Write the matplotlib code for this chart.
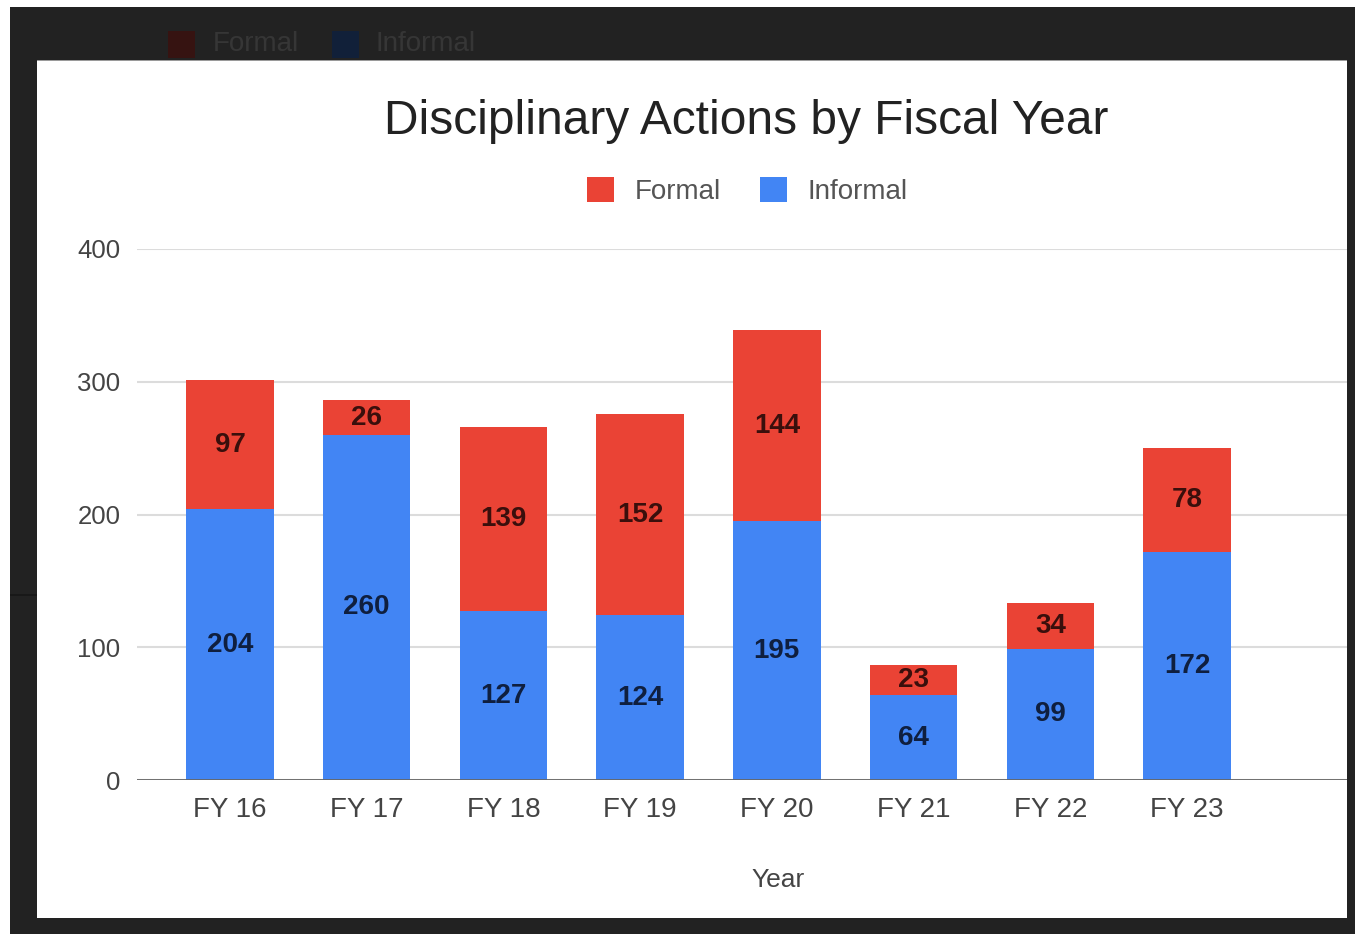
import matplotlib.pyplot as plt
from matplotlib.patches import Rectangle, Patch

plt.rcParams['font.family'] = ['Liberation Sans', 'DejaVu Sans']

years = ['FY 16', 'FY 17', 'FY 18', 'FY 19', 'FY 20', 'FY 21', 'FY 22', 'FY 23']
informal = [204, 260, 127, 124, 195, 64, 99, 172]
formal = [97, 26, 139, 152, 144, 23, 34, 78]

red = '#EA4335'
blue = '#4285F4'

W, H = 1360, 934
fig = plt.figure(figsize=(W / 100, H / 100), dpi=100, facecolor='white')


def box(x, y, w, h, color, z=0, **kw):
    # rectangle given in pixels, top-left origin
    fig.patches.append(Rectangle((x / W, 1 - (y + h) / H), w / W, h / H,
                                 transform=fig.transFigure, facecolor=color,
                                 zorder=z, **kw))


# dark page behind the white card
box(10, 7, 1345, 927, '#222222', edgecolor='none')
box(10, 594, 28, 2, '#181818', edgecolor='none')
# dimmed legend of the page underneath
box(168, 31, 27, 27, '#361311', edgecolor='none')
box(332, 31, 27, 27, '#112039', edgecolor='none')
fig.text(213 / W, 1 - 44 / H, 'Formal', fontsize=20, color='#363636',
         va='center', ha='left', zorder=0.2)
fig.text(376 / W, 1 - 44 / H, 'Informal', fontsize=20, color='#363636',
         va='center', ha='left', zorder=0.2)

# white chart card
box(37, 60, 1310, 858, 'white', z=0.5, edgecolor='none')
box(37, 60, 1310, 1, '#9a9a9a', z=0.6, edgecolor='none')

ax = fig.add_axes([137 / W, 154 / H, (1347 - 137) / W, (685 - 154) / H])
ax.set_zorder(1)
ax.set_facecolor('none')

x = range(len(years))
ax.bar(x, informal, width=0.64, color=blue, zorder=3)
ax.bar(x, formal, width=0.64, bottom=informal, color=red, zorder=3)

for i in x:
    ax.text(i, informal[i] / 2, str(informal[i]), ha='center', va='center',
            fontsize=20, fontweight='bold', color='#0f1f3f', zorder=4)
    ax.text(i, informal[i] + formal[i] / 2, str(formal[i]), ha='center',
            va='center', fontsize=20, fontweight='bold', color='#3a0f0c',
            zorder=4)

ax.set_xlim(-0.68, 8.17)
ax.set_ylim(0, 400)
ax.set_yticks([0, 100, 200, 300, 400])
ax.set_xticks(list(x))
ax.set_xticklabels(years)
ax.tick_params(axis='y', length=0, pad=12, labelsize=18.5, labelcolor='#444444')
ax.tick_params(axis='x', length=0, pad=12, labelsize=20, labelcolor='#444444')
ax.grid(axis='y', color='#dcdcdc', linewidth=1.5, zorder=0)
ax.axhline(0, color='#666666', linewidth=2, zorder=5)
for s in ax.spines.values():
    s.set_visible(False)

fig.text(746 / W, 1 - 121 / H, 'Disciplinary Actions by Fiscal Year',
         fontsize=34.5, color='#222222', ha='center', va='center', zorder=2)
fig.text(778 / W, 1 - 880 / H, 'Year', fontsize=19, color='#444444',
         ha='center', va='center', zorder=2)

handles = [Patch(facecolor=red), Patch(facecolor=blue)]
leg = fig.legend(handles, ['Formal', 'Informal'], loc='center',
                 bbox_to_anchor=(747 / W, 1 - 191 / H), ncol=2, frameon=False,
                 fontsize=20, handlelength=1, handleheight=1, handletextpad=0.72,
                 columnspacing=1.4, labelcolor='#555555')
leg.set_zorder(2)

fig.savefig('out.png', dpi=100, facecolor=fig.get_facecolor())
